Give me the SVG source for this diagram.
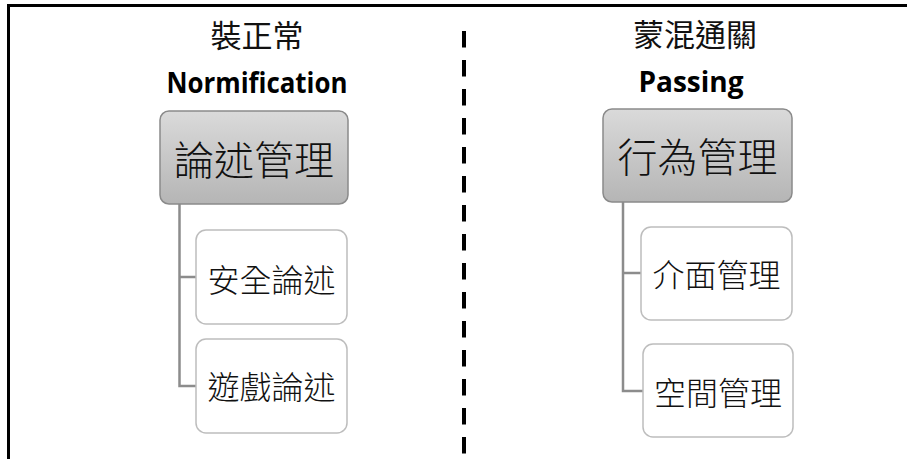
<svg xmlns="http://www.w3.org/2000/svg" width="907" height="459" viewBox="0 0 907 459">
<defs>
<linearGradient id="g" x1="0" y1="0" x2="0" y2="1">
<stop offset="0" stop-color="#dadada"/>
<stop offset="1" stop-color="#b5b5b5"/>
</linearGradient>
<style>
.cjk{font-family:"Noto Sans CJK TC","Noto Sans CJK SC",sans-serif;fill:#111;text-anchor:middle;dominant-baseline:central;font-weight:300}
.en{font-family:"Open Sans","Liberation Sans",sans-serif;font-weight:bold;fill:#000;text-anchor:middle;font-size:28px}
.main{fill:url(#g);stroke:#8a8a8a;stroke-width:1.5}
.child{fill:#fff;stroke:#bdbdbd;stroke-width:1.5}
.conn{fill:none;stroke:#8c8c8c;stroke-width:2.5}
</style>
</defs>
<rect width="907" height="459" fill="#fff"/>
<g id="frame">
<path d="M8.5,459 V5.5 H907" fill="none" stroke="#000" stroke-width="3"/>
<line x1="464" y1="31" x2="464" y2="459" stroke="#000" stroke-width="4" stroke-dasharray="16.5 12.5"/>
</g>
<g id="titles">
<text class="cjk" x="257" y="33" font-size="31" style="font-weight:400">裝正常</text>
<text class="en" x="257" y="93" textLength="181" lengthAdjust="spacingAndGlyphs">Normification</text>
<text class="cjk" x="695" y="32" font-size="31" style="font-weight:400">蒙混通關</text>
<text class="en" x="691" y="92" textLength="105" lengthAdjust="spacingAndGlyphs">Passing</text>
</g>
<g id="connectors">
<path class="conn" d="M179.5,204 V386 H196 M179.5,277 H196"/>
<path class="conn" d="M623,202 V391 H643 M623,273 H641"/>
</g>
<g id="n-lunshu">
<rect class="main" x="160" y="111" width="188" height="93" rx="9"/>
<text class="cjk" x="254" y="157.5" font-size="40">論述管理</text>
</g>
<g id="n-anquan">
<rect class="child" x="196" y="230" width="151" height="94" rx="10"/>
<text class="cjk" x="271.5" y="277.5" font-size="32">安全論述</text>
</g>
<g id="n-youxi">
<rect class="child" x="196" y="339" width="151" height="94" rx="10"/>
<text class="cjk" x="271.5" y="385" font-size="32">遊戲論述</text>
</g>
<g id="n-xingwei">
<rect class="main" x="603" y="109" width="189" height="93" rx="9"/>
<text class="cjk" x="697.5" y="155" font-size="40">行為管理</text>
</g>
<g id="n-jiemian">
<rect class="child" x="641" y="227" width="151" height="93" rx="10"/>
<text class="cjk" x="716.5" y="273" font-size="32">介面管理</text>
</g>
<g id="n-kongjian">
<rect class="child" x="643" y="344" width="150" height="93" rx="10"/>
<text class="cjk" x="718" y="390.5" font-size="32">空間管理</text>
</g>
</svg>
